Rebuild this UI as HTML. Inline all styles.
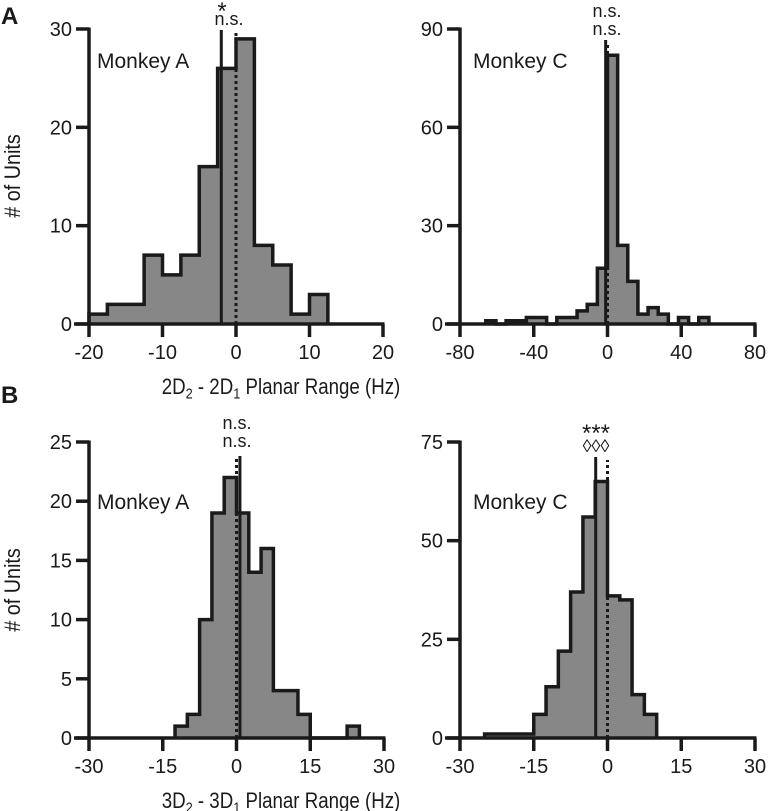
<!DOCTYPE html>
<html><head><meta charset="utf-8"><style>
body{margin:0;background:#fff}
svg{display:block;font-family:"Liberation Sans",Arial,sans-serif}
</style></head><body>
<svg id="fig" width="770" height="811" viewBox="0 0 770 811" xmlns="http://www.w3.org/2000/svg">
<text x="1" y="24" font-size="24" font-weight="bold" fill="#1a1a1a">A</text>
<text x="1" y="403" font-size="24" font-weight="bold" fill="#1a1a1a">B</text>
<text transform="translate(20,176) rotate(-90) scale(0.9,1)" text-anchor="middle" font-size="22" fill="#1a1a1a"># of Units</text>
<text transform="translate(20,590) rotate(-90) scale(0.9,1)" text-anchor="middle" font-size="22" fill="#1a1a1a"># of Units</text>
<g transform="translate(281,394) scale(0.85,1)">
<text x="0" y="0" text-anchor="middle" font-size="22" fill="#1a1a1a">2D<tspan font-size="15" baseline-shift="-30%">2</tspan> - 2D<tspan font-size="15" baseline-shift="-30%">1</tspan> Planar Range (Hz)</text></g>
<g transform="translate(281,808) scale(0.85,1)">
<text x="0" y="0" text-anchor="middle" font-size="22" fill="#1a1a1a">3D<tspan font-size="15" baseline-shift="-30%">2</tspan> - 3D<tspan font-size="15" baseline-shift="-30%">1</tspan> Planar Range (Hz)</text></g>
</svg>
<script>
// Panel A1 (Monkey A, 2D)
const a1Edges = [-20,-17.5,-15,-12.5,-10,-7.5,-5,-2.5,0,2.5,5,7.5,10,12.5];
const a1Counts = [1,2,2,7,5,7,16,26,29,8,6,1,3];
const a1XTicks = [-20,-10,0,10,20];
const a1YTicks = [0,10,20,30];
const a1Mean = -2;
// Panel A2 (Monkey C, 2D)
const a2Edges = [-66,-60.5,-55,-49.5,-44,-38.5,-33,-27.5,-22,-16.5,-11,-5.5,0,5.5,11,16.5,22,27.5,33,38.5,44,49.5,55];
const a2Counts = [1,0,1,1,2,2,0,2,2,4,6,17,82,24,13,3,5,3,0,2,0,2];
const a2XTicks = [-80,-40,0,40,80];
const a2YTicks = [0,30,60,90];
const a2Mean = -1;
// Panel B1 (Monkey A, 3D)
const b1Edges = [-12.5,-10,-7.5,-5,-2.5,0,2.5,5,7.5,10,12.5,15,17.5,20,22.5,25];
const b1Counts = [1,2,10,19,22,19,14,16,4,4,2,0,0,0,1];
const b1XTicks = [-30,-15,0,15,30];
const b1YTicks = [0,5,10,15,20,25];
const b1Mean = 0.7;
// Panel B2 (Monkey C, 3D)
const b2Edges = [-25,-15,-12.5,-10,-7.5,-5,-2.5,0,2.5,5,7.5,10];
const b2Counts = [1,6,13,22,37,56,65,36,35,11,6];
const b2XTicks = [-30,-15,0,15,30];
const b2YTicks = [0,25,50,75];
const b2Mean = -2.4;

const NS = "http://www.w3.org/2000/svg";
const svg = document.getElementById('fig');
function mk(tag, attrs, parent){
  const e = document.createElementNS(NS, tag);
  for (const k in attrs) e.setAttribute(k, attrs[k]);
  (parent||svg).appendChild(e);
  return e;
}
function panel(cfg){
  const {name, x0, x1, y0, y1, xmin, xmax, ymax, edges, counts, xticks, yticks, mean, label, ann1, ann2, lineTop} = cfg;
  const g = mk('g', {});
  
  
  const X = v => x0 + (v - xmin) / (xmax - xmin) * (x1 - x0);
  const Y = v => y0 - v / ymax * (y0 - y1);
  let d = 'M' + X(edges[0]) + ',' + y0;
  for (let i = 0; i < counts.length; i++){
    d += ' L' + X(edges[i]) + ',' + Y(counts[i]) + ' L' + X(edges[i+1]) + ',' + Y(counts[i]);
  }
  d += ' L' + X(edges[counts.length]) + ',' + y0;
  const f = mk('path', {d: d + ' Z', fill:'#878787', stroke:'none'}, g);
  
  
  const o = mk('path', {d: d, fill:'none', stroke:'#1a1a1a', 'stroke-width':3.5, 'stroke-linejoin':'miter'}, g);
  
  
  const dz = mk('line', {x1: X(0), x2: X(0), y1: y0, y2: lineTop + 3, stroke:'#1a1a1a', 'stroke-width':3, 'stroke-dasharray':'3,3'}, g);
  
  
  const ml = mk('line', {x1: X(mean), x2: X(mean), y1: y0, y2: lineTop, stroke:'#1a1a1a', 'stroke-width':3}, g);
  
  
  const ya = mk('line', {x1: x0, x2: x0, y1: y1 - 1.5, y2: y0 + 1.5, stroke:'#1a1a1a', 'stroke-width':3.5}, g);
  
  
  const xa = mk('line', {x1: x0 - 15, x2: x1 + 1.5, y1: y0, y2: y0, stroke:'#1a1a1a', 'stroke-width':3.5}, g);
  
  
  for (const t of yticks){
    mk('line', {x1: x0 - 13, x2: x0, y1: Y(t), y2: Y(t), stroke:'#1a1a1a', 'stroke-width':3.5}, g);
    const tl = mk('text', {x: x0 - 17, y: Y(t) + 7, 'text-anchor':'end', 'font-size':20, fill:'#1a1a1a'}, g);
    
    
    tl.textContent = t;
  }
  for (const t of xticks){
    mk('line', {x1: X(t), x2: X(t), y1: y0, y2: y0 + 13, stroke:'#1a1a1a', 'stroke-width':3.5}, g);
    const tl = mk('text', {x: X(t), y: y0 + 35, 'text-anchor':'middle', 'font-size':20, fill:'#1a1a1a'}, g);
    
    
    tl.textContent = t;
  }
  const ml2 = mk('text', {x: label[0], y: label[1], 'font-size':21, fill:'#1a1a1a'}, g);
  
  
  ml2.textContent = label[2];
  for (const a of [ann1, ann2]){
    if (!a) continue;
    const t = mk('text', {x: a[0], y: a[1], 'text-anchor':'middle', 'font-size': a[3] || 18, fill:'#1a1a1a'}, g);
    
    
    t.textContent = a[2];
  }
}
panel({name:'panel-a-monkey-a', x0:89, x1:383, y0:324, y1:29, xmin:-20, xmax:20, ymax:30, edges:a1Edges, counts:a1Counts, xticks:a1XTicks, yticks:a1YTicks, mean:a1Mean, label:[97,68,'Monkey A'], ann1:[229,25,'n.s.'], ann2:[222,19,'*',24], lineTop:30});
panel({name:'panel-a-monkey-c', x0:460, x1:755, y0:324, y1:29, xmin:-80, xmax:80, ymax:90, edges:a2Edges, counts:a2Counts, xticks:a2XTicks, yticks:a2YTicks, mean:a2Mean, label:[473,68,'Monkey C'], ann1:[607,17,'n.s.'], ann2:[607,35,'n.s.'], lineTop:40});
panel({name:'panel-b-monkey-a', x0:89, x1:384, y0:738, y1:442, xmin:-30, xmax:30, ymax:25, edges:b1Edges, counts:b1Counts, xticks:b1XTicks, yticks:b1YTicks, mean:b1Mean, label:[97,509,'Monkey A'], ann1:[237,429,'n.s.'], ann2:[237,447,'n.s.'], lineTop:456});
panel({name:'panel-b-monkey-c', x0:460, x1:755, y0:738, y1:442, xmin:-30, xmax:30, ymax:75, edges:b2Edges, counts:b2Counts, xticks:b2XTicks, yticks:b2YTicks, mean:b2Mean, label:[473,509,'Monkey C'], ann1:[596,441,'***',24], ann2:[596,452,'◊◊◊',18], lineTop:457});
</script>
</body></html>
